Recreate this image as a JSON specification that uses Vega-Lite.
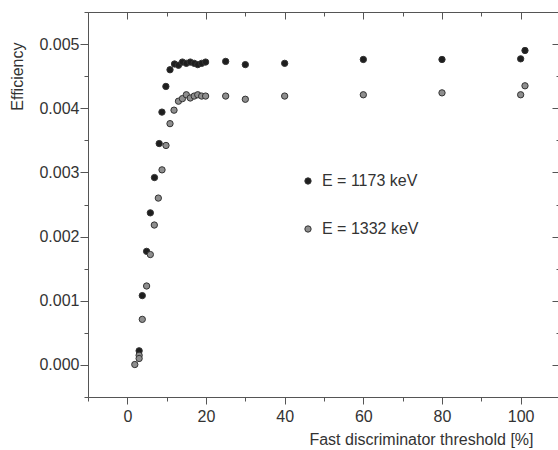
{
  "$schema": "https://vega.github.io/schema/vega-lite/v6.json",
  "width": 472,
  "height": 385,
  "autosize": {"type": "none"},
  "padding": {"left": 88, "top": 12, "right": 0, "bottom": 53},
  "background": "white",
  "config": {
    "view": {"stroke": "#555", "strokeWidth": 1},
    "font": "Liberation Sans",
    "axis": {"grid": false, "domain": false, "tickColor": "#555", "labelFont": "Liberation Sans", "labelFontSize": 16, "labelColor": "#333", "titleFont": "Liberation Sans", "titleFontSize": 16, "titleFontWeight": "normal", "titleColor": "#333"}
  },
  "data": {"values": [
    {"x": 3.0, "y": 0.00022, "E": "E = 1173 keV"},
    {"x": 3.8, "y": 0.00108, "E": "E = 1173 keV"},
    {"x": 4.9, "y": 0.00177, "E": "E = 1173 keV"},
    {"x": 5.85, "y": 0.00237, "E": "E = 1173 keV"},
    {"x": 6.9, "y": 0.00292, "E": "E = 1173 keV"},
    {"x": 8.1, "y": 0.00345, "E": "E = 1173 keV"},
    {"x": 8.8, "y": 0.00394, "E": "E = 1173 keV"},
    {"x": 9.8, "y": 0.00434, "E": "E = 1173 keV"},
    {"x": 10.85, "y": 0.0046, "E": "E = 1173 keV"},
    {"x": 12.0, "y": 0.00469, "E": "E = 1173 keV"},
    {"x": 13.0, "y": 0.00467, "E": "E = 1173 keV"},
    {"x": 14.0, "y": 0.00472, "E": "E = 1173 keV"},
    {"x": 15.0, "y": 0.0047, "E": "E = 1173 keV"},
    {"x": 16.0, "y": 0.00472, "E": "E = 1173 keV"},
    {"x": 17.0, "y": 0.0047, "E": "E = 1173 keV"},
    {"x": 17.9, "y": 0.00468, "E": "E = 1173 keV"},
    {"x": 18.9, "y": 0.0047, "E": "E = 1173 keV"},
    {"x": 19.9, "y": 0.00472, "E": "E = 1173 keV"},
    {"x": 25, "y": 0.00473, "E": "E = 1173 keV"},
    {"x": 30, "y": 0.00468, "E": "E = 1173 keV"},
    {"x": 40, "y": 0.0047, "E": "E = 1173 keV"},
    {"x": 60, "y": 0.00476, "E": "E = 1173 keV"},
    {"x": 80, "y": 0.00476, "E": "E = 1173 keV"},
    {"x": 100, "y": 0.00477, "E": "E = 1173 keV"},
    {"x": 101.1, "y": 0.0049, "E": "E = 1173 keV"},
    {"x": 1.9, "y": 0.000006, "E": "E = 1332 keV"},
    {"x": 3.0, "y": 0.00015, "E": "E = 1332 keV"},
    {"x": 3.0, "y": 0.0001, "E": "E = 1332 keV"},
    {"x": 3.8, "y": 0.00071, "E": "E = 1332 keV"},
    {"x": 4.9, "y": 0.00123, "E": "E = 1332 keV"},
    {"x": 5.85, "y": 0.00172, "E": "E = 1332 keV"},
    {"x": 6.86, "y": 0.00218, "E": "E = 1332 keV"},
    {"x": 7.88, "y": 0.0026, "E": "E = 1332 keV"},
    {"x": 8.82, "y": 0.00304, "E": "E = 1332 keV"},
    {"x": 9.83, "y": 0.00342, "E": "E = 1332 keV"},
    {"x": 10.85, "y": 0.00376, "E": "E = 1332 keV"},
    {"x": 11.87, "y": 0.00397, "E": "E = 1332 keV"},
    {"x": 13.0, "y": 0.00411, "E": "E = 1332 keV"},
    {"x": 14.0, "y": 0.00415, "E": "E = 1332 keV"},
    {"x": 15.0, "y": 0.00421, "E": "E = 1332 keV"},
    {"x": 16.0, "y": 0.00416, "E": "E = 1332 keV"},
    {"x": 17.0, "y": 0.00419, "E": "E = 1332 keV"},
    {"x": 17.9, "y": 0.00421, "E": "E = 1332 keV"},
    {"x": 18.9, "y": 0.00419, "E": "E = 1332 keV"},
    {"x": 19.9, "y": 0.00419, "E": "E = 1332 keV"},
    {"x": 25, "y": 0.00419, "E": "E = 1332 keV"},
    {"x": 30, "y": 0.00414, "E": "E = 1332 keV"},
    {"x": 40, "y": 0.00419, "E": "E = 1332 keV"},
    {"x": 60, "y": 0.00421, "E": "E = 1332 keV"},
    {"x": 80, "y": 0.00424, "E": "E = 1332 keV"},
    {"x": 100, "y": 0.00421, "E": "E = 1332 keV"},
    {"x": 101.1, "y": 0.00435, "E": "E = 1332 keV"}
  ]},
  "layer": [
    {
      "mark": {"type": "point", "filled": true, "size": 40, "stroke": "#333", "strokeWidth": 1, "opacity": 1},
      "encoding": {
        "x": {"field": "x", "type": "quantitative", "scale": {"domain": [-10, 110], "nice": false, "zero": false},
          "axis": {"orient": "bottom", "values": [-10, 0, 10, 20, 30, 40, 50, 60, 70, 80, 90, 100, 110], "format": "d",
            "labelExpr": "datum.value >= 0 && datum.value % 20 == 0 ? datum.label : ''",
            "tickSize": {"condition": {"test": "datum.value % 20 == 0", "value": 7}, "value": 4},
            "labelPadding": 4,
            "title": "Fast discriminator threshold [%]", "titleX": 445, "titleY": 47, "titleAlign": "right", "titleBaseline": "alphabetic", "titleAnchor": null}},
        "y": {"field": "y", "type": "quantitative", "scale": {"domain": [-0.0005, 0.0055], "nice": false, "zero": false},
          "axis": {"orient": "left", "values": [-0.0005, 0, 0.0005, 0.001, 0.0015, 0.002, 0.0025, 0.003, 0.0035, 0.004, 0.0045, 0.005, 0.0055], "format": ".3f",
            "labelExpr": "abs(datum.value*1000 - round(datum.value*1000)) < 0.000001 ? datum.label : ''",
            "tickSize": {"condition": {"test": "abs(datum.value*1000 - round(datum.value*1000)) < 0.000001", "value": 8}, "value": 4},
            "labelPadding": 1,
            "title": "Efficiency", "titleX": -66, "titleY": 30, "titleAngle": -90, "titleAlign": "right", "titleBaseline": "alphabetic", "titleAnchor": null}},
        "color": {"field": "E", "type": "nominal", "scale": {"domain": ["E = 1173 keV", "E = 1332 keV"], "range": ["#1e1e1e", "#8e8e8e"]},
          "legend": {"orient": "none", "legendX": 212, "legendY": 161, "direction": "vertical", "title": null, "labelFont": "Liberation Sans", "labelFontSize": 16, "labelColor": "#333", "symbolType": "circle", "symbolSize": 40, "symbolStrokeColor": "#333", "symbolStrokeWidth": 1, "rowPadding": 32, "labelOffset": 6, "padding": 0}}
      }
    },
    {
      "mark": {"type": "point", "opacity": 0},
      "encoding": {
        "x": {"field": "x", "type": "quantitative", "scale": {"domain": [-10, 110], "nice": false, "zero": false},
          "axis": {"orient": "top", "values": [-10, 0, 10, 20, 30, 40, 50, 60, 70, 80, 90, 100, 110], "labels": false, "title": null,
            "tickSize": {"condition": {"test": "datum.value % 20 == 0", "value": -7}, "value": -4}}},
        "y": {"field": "y", "type": "quantitative", "scale": {"domain": [-0.0005, 0.0055], "nice": false, "zero": false},
          "axis": {"orient": "right", "values": [-0.0005, 0, 0.0005, 0.001, 0.0015, 0.002, 0.0025, 0.003, 0.0035, 0.004, 0.0045, 0.005, 0.0055], "labels": false, "title": null,
            "tickSize": {"condition": {"test": "abs(datum.value*1000 - round(datum.value*1000)) < 0.000001", "value": -8}, "value": -4}}}
      }
    }
  ],
  "resolve": {"axis": {"x": "independent", "y": "independent"}}
}
